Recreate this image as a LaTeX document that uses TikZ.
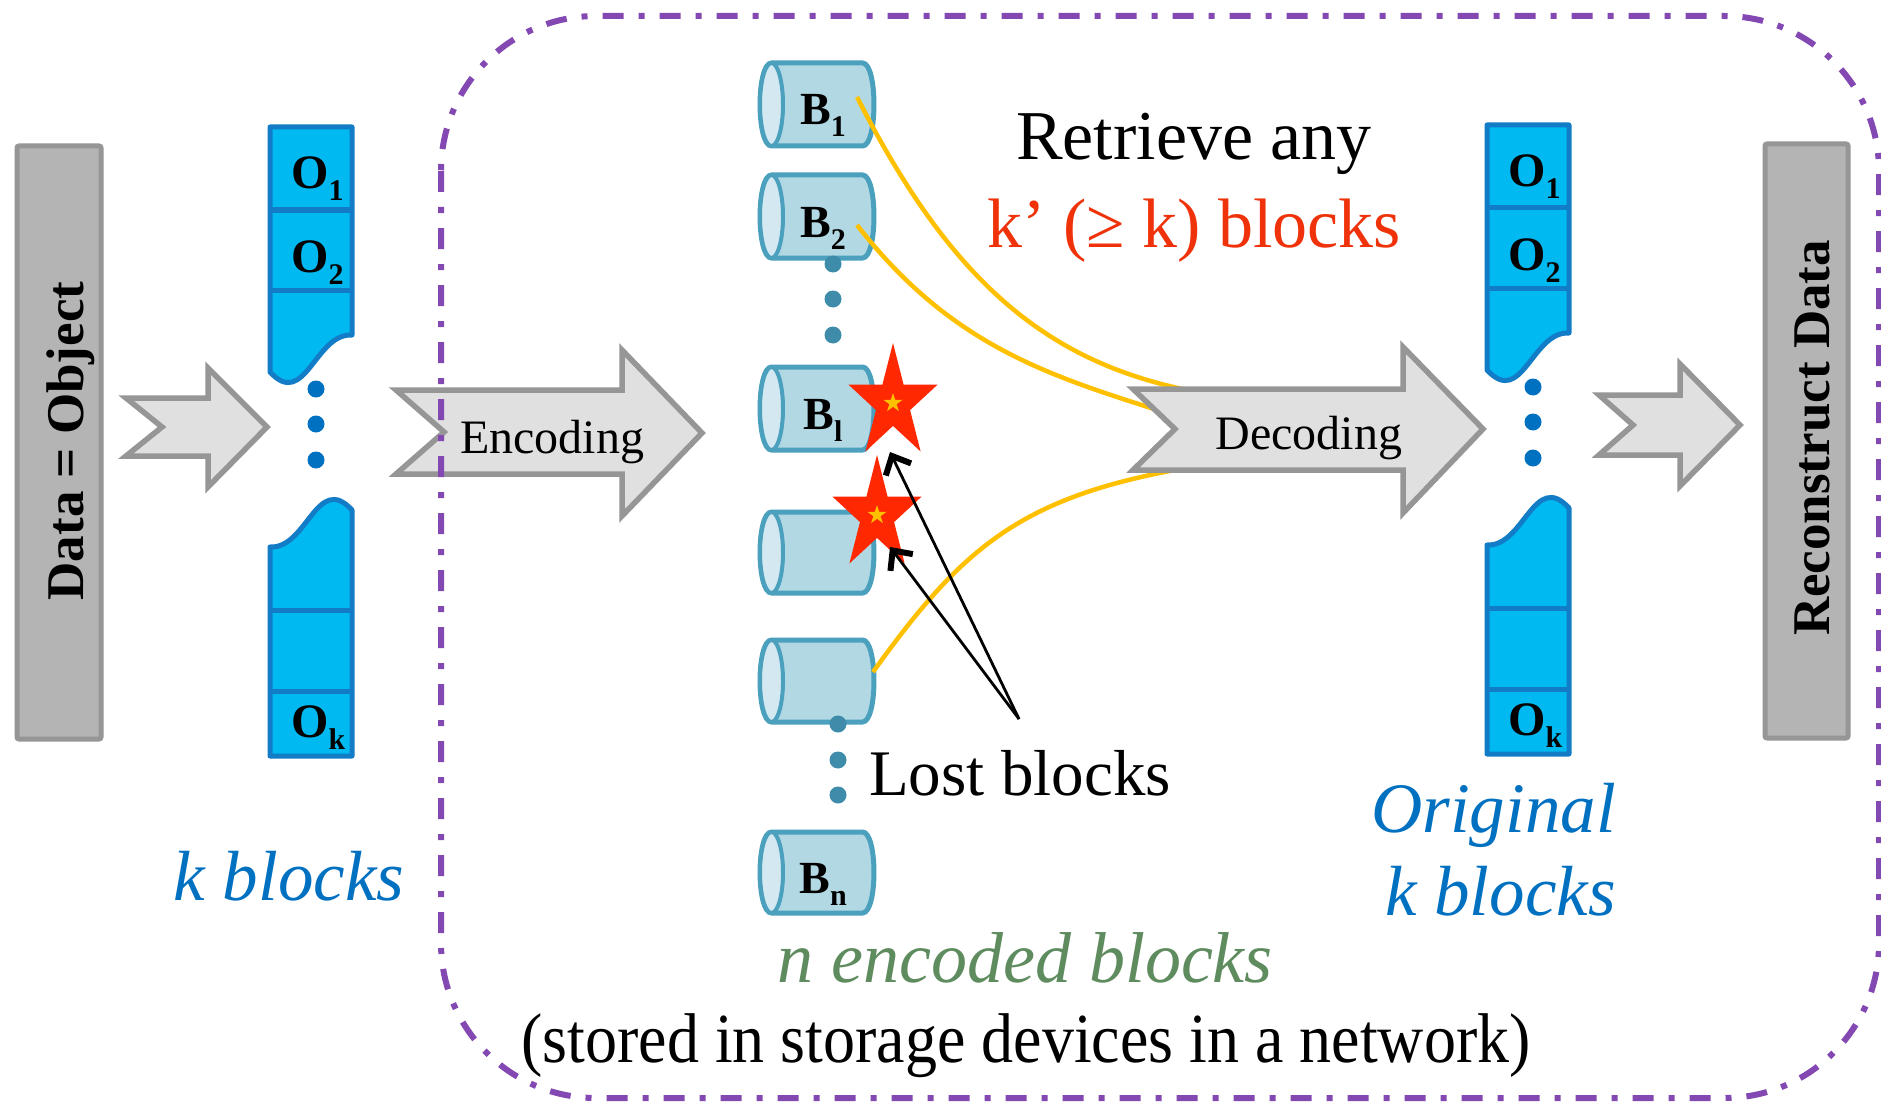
\documentclass[tikz,border=0pt]{standalone}
\usepackage{fontspec}
\usepackage{graphicx}
\setmainfont{Liberation Serif}
\usetikzlibrary{arrows.meta}

\definecolor{barfill}{RGB}{180,180,180}
\definecolor{barline}{RGB}{150,150,150}
\definecolor{arrowfill}{RGB}{224,224,224}
\definecolor{stackfill}{RGB}{0,185,241}
\definecolor{stackline}{RGB}{18,124,198}
\definecolor{stackdot}{RGB}{0,112,192}
\definecolor{cylfill}{RGB}{178,216,228}
\definecolor{cylfacefill}{RGB}{212,232,241}
\definecolor{cylline}{RGB}{75,160,190}
\definecolor{cyldot}{RGB}{63,140,170}
\definecolor{lossred}{RGB}{255,40,0}
\definecolor{lossyellow}{RGB}{255,192,0}
\definecolor{linkyellow}{RGB}{255,192,0}
\definecolor{boxpurple}{RGB}{132,72,178}
\definecolor{retrred}{RGB}{240,50,10}
\definecolor{labelblue}{RGB}{0,112,192}
\definecolor{encgreen}{RGB}{95,140,95}

\newcommand\setfs[1]{\fontsize{#1}{#1}\selectfont}
\newcommand\lowsub[1]{\raisebox{-12pt}{\setfs{30}#1}}

% one storage cylinder lying on its side: #1 = top, #2 = bottom
\newcommand\cylinder[2]{%
  \filldraw[cylbody] (771.5,#1) -- (862.5,#1)
    .. controls (877.8,#1) and (877.8,#2) .. (862.5,#2)
    -- (771.5,#2) .. controls (756.2,#2) and (756.2,#1) .. (771.5,#1) -- cycle;
  \filldraw[cylface] (771.5,{(#1+#2)/2}) ellipse [x radius=11.5, y radius={(#2-#1)/2}];
}

% red star marking a lost block, with its small yellow centre
\newcommand\lossstar[1]{%
  \begin{scope}[shift={#1}]
    \fill[lossred] (0,-60) -- (-10.55,-18.5) -- (-44.7,-18.5) -- (-17.07,7.08)
      -- (-27.6,48.5) -- (0,22.9) -- (27.6,48.5) -- (17.07,7.08)
      -- (44.7,-18.5) -- (10.55,-18.5) -- cycle;
    \fill[lossyellow] (0,-10) -- (-2.25,-3.09) -- (-9.51,-3.09) -- (-3.63,1.18)
      -- (-5.88,8.09) -- (0,3.82) -- (5.88,8.09) -- (3.63,1.18)
      -- (9.51,-3.09) -- (2.25,-3.09) -- cycle;
  \end{scope}}

% a column of k data blocks with a gap in the middle
\newcommand\datastack{%
  \filldraw[stackbox] (270,127) -- (352,127) -- (352,335)
    .. controls (315,333) and (305,410) .. (270,372) -- cycle;
  \draw[stackrule] (270,210) -- (352,210) (270,290) -- (352,290);
  \filldraw[stackbox] (270,547) .. controls (307,549) and (317,472) .. (352,510)
    -- (352,756) -- (270,756) -- cycle;
  \draw[stackrule] (270,610) -- (352,610) (270,691) -- (352,691);
  \fill[stackdot] (316,389) circle[radius=8.5] (316,424) circle[radius=8.5]
    (316,460) circle[radius=8.5];
  \node[olabel] at (291,189) {O\lowsub{1}};
  \node[olabel] at (291,272) {O\lowsub{2}};
  \node[olabel] at (291,737) {O\lowsub{k}};
}

\begin{document}
\begin{tikzpicture}[x=1pt, y=-1pt,
  databar/.style={fill=barfill, draw=barline, line width=5pt, rounded corners=2pt},
  bartext/.style={inner sep=0pt, rotate=90, anchor=base, font=\setfs{53}\bfseries},
  blockarrow/.style={fill=arrowfill, draw=barline, line width=5.5pt, line join=miter},
  arrowtext/.style={inner sep=0pt, anchor=base, font=\setfs{48}},
  stackbox/.style={fill=stackfill, draw=stackline, line width=5pt, line join=round},
  stackrule/.style={draw=stackline, line width=5pt},
  olabel/.style={inner sep=0pt, anchor=base west, font=\setfs{48}\bfseries},
  cylbody/.style={fill=cylfill, draw=cylline, line width=5pt},
  cylface/.style={fill=cylfacefill, draw=cylline, line width=4pt},
  blabel/.style={inner sep=0pt, anchor=base, font=\setfs{46}\bfseries},
  link/.style={draw=linkyellow, line width=4.5pt},
  lostarrow/.style={draw=black, line width=2.8pt,
    -{Straight Barb[length=15pt, width=28pt, line width=6pt]}},
  plaintext/.style={inner sep=0pt, anchor=base},
  dashbox/.style={draw=boxpurple, line width=6pt, rounded corners=155pt,
    dash pattern=on 21pt off 15pt on 6pt off 15pt}]

\fill[white] (0,0) rectangle (1881,1102);
\useasboundingbox (0,0) rectangle (1881,1102);

% input data and reconstructed data
\filldraw[databar] (17,146) rectangle (101,739);
\node[bartext] (data) at (83,441) {Data = Object};
\filldraw[databar] (1765,144) rectangle (1848,738);
\node[bartext] (recon) at (1829,438) {Reconstruct Data};

% small arrows around the block columns
\filldraw[blockarrow] (126,398) -- (208,398) -- (208,368) -- (267,427) -- (208,487)
  -- (208,456) -- (126,456) -- (162,427) -- cycle;
\filldraw[blockarrow] (1599,395) -- (1680,395) -- (1680,364) -- (1740,425) -- (1680,486)
  -- (1680,455) -- (1599,455) -- (1633,425) -- cycle;

% original k blocks, before and after
\datastack
\begin{scope}[shift={(1217,-2)}]
  \datastack
\end{scope}

% encoding step
\filldraw[blockarrow] (396,390) -- (622,390) -- (622,350) -- (702,433) -- (622,516)
  -- (622,474) -- (396,474) -- (444,432) -- cycle;
\node[arrowtext] (enc) at (552,453) {Encoding};

% n encoded blocks
\cylinder{63}{146}
\cylinder{175}{258}
\cylinder{367}{450}
\cylinder{512}{593}
\cylinder{640}{722}
\cylinder{832}{913}
\node[blabel] (b1) at (823,125) {B\lowsub{1}};
\node[blabel] (b2) at (823,237) {B\lowsub{2}};
\node[blabel] (bl) at (823,429) {B\lowsub{l}};
\node[blabel] (bn) at (823,893) {B\lowsub{n}};
\fill[cyldot] (833,264) circle[radius=8.5] (833,299) circle[radius=8.5]
  (833,335) circle[radius=8.5];
\fill[cyldot] (838,724) circle[radius=8.5] (838,760) circle[radius=8.5]
  (838,795) circle[radius=8.5];

% blocks that are read back
\coordinate (r1) at (857,97);
\coordinate (r2) at (857,225);
\coordinate (r3) at (873,672);
\coordinate (d1) at (1192,391);
\coordinate (d2) at (1170,414);
\coordinate (d3) at (1186,468);
\draw[link] (r1) .. controls (950,280) and (1045,362) .. (d1);
\draw[link] (r2) .. controls (952,347) and (1050,376) .. (d2);
\draw[link] (r3) .. controls (962,548) and (1020,497) .. (d3);

% lost blocks
\lossstar{(893,403)}
\lossstar{(877,515)}

% decoding step
\filldraw[blockarrow] (1133,389) -- (1403,389) -- (1403,347) -- (1483,429) -- (1403,513)
  -- (1403,470) -- (1133,470) -- (1175,429) -- cycle;
\node[arrowtext] (dec) at (1309,449) {Decoding};

% pointers to the lost blocks
\coordinate (lostfrom) at (1019,719);
\coordinate (tip1) at (890,452);
\coordinate (tip2) at (890,547);
\draw[lostarrow] (lostfrom) -- (tip1);
\draw[lostarrow] (lostfrom) -- (tip2);

% captions
\node[plaintext, font=\setfs{70}] (retr) at (1194,160) {Retrieve any};
\node[plaintext, font=\setfs{70}, text=retrred] (kprime) at (1194,247) {k’ (≥ k) blocks};
\node[plaintext, font=\setfs{65}] (lost) at (1020,795) {Lost blocks};
\node[plaintext, font=\setfs{71}\itshape, text=labelblue] (kleft) at (289,900) {k blocks};
\node[plaintext, anchor=base east, font=\setfs{71}\itshape, text=labelblue] (orig) at (1616,832) {Original};
\node[plaintext, anchor=base east, font=\setfs{71}\itshape, text=labelblue] (kright) at (1616,915) {k blocks};
\node[plaintext, font=\setfs{72}\itshape, text=encgreen] (nenc) at (1025,982) {n encoded blocks};
\node[plaintext, font=\setfs{64}] (stored) at (1026,1062)
  {\scalebox{1}[1.1]{(stored in storage devices in a network)}};

% the storage network
\draw[dashbox] (441,16) rectangle (1879,1098);
\end{tikzpicture}
\end{document}
